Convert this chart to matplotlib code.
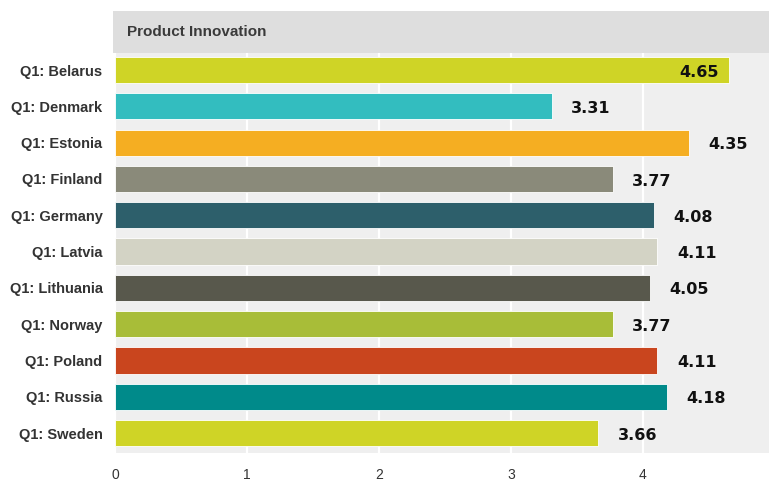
import matplotlib
matplotlib.use("Agg")
import matplotlib.pyplot as plt
from matplotlib import font_manager

categories = ["Q1: Belarus", "Q1: Denmark", "Q1: Estonia", "Q1: Finland", "Q1: Germany",
              "Q1: Latvia", "Q1: Lithuania", "Q1: Norway", "Q1: Poland", "Q1: Russia",
              "Q1: Sweden"]
values = [4.65, 3.31, 4.35, 3.77, 4.08, 4.11, 4.05, 3.77, 4.11, 4.18, 3.66]
colors = ["#cfd426", "#33bdbf", "#f5ae22", "#8a8a7a", "#2d5f6b", "#d3d3c5",
          "#58584c", "#a8bd38", "#c9451e", "#008a8a", "#cfd426"]
xticks = [0, 1, 2, 3, 4]
title = "Product Innovation"

names = {f.name for f in font_manager.fontManager.ttflist}
narrow = "Liberation Sans Narrow" if "Liberation Sans Narrow" in names else "Liberation Sans"

W, H = 769, 484
fig = plt.figure(figsize=(W / 100, H / 100), dpi=100)
fig.patch.set_facecolor("white")

ax_l, ax_r, ax_t, ax_b = 115, 769, 53, 453
ax = fig.add_axes([ax_l / W, 1 - ax_b / H, (ax_r - ax_l) / W, (ax_b - ax_t) / H])
ax.set_facecolor("#efefef")

# strip header
hdr = fig.add_axes([113 / W, 1 - ax_t / H, (W - 113) / W, (ax_t - 11) / H])
hdr.set_facecolor("#dedede")
hdr.set_xticks([]); hdr.set_yticks([])
for s in hdr.spines.values():
    s.set_visible(False)
hdr.text(14 / (W - 113), 0.5, title, transform=hdr.transAxes, ha="left", va="center",
         fontsize=11, fontweight="bold", color="#3a3a3a", family=narrow)

xmax = 4.955
ypos = list(range(len(categories)))
ax.barh(ypos, values, height=0.72, color=colors, edgecolor="#ffffff",
        linewidth=0.6, zorder=3)
ax.set_xlim(0, xmax)
ax.set_ylim(len(categories) - 0.45, -0.47)

for x in xticks:
    ax.axvline(x, color="white", linewidth=1.6, zorder=1)

for y, v in zip(ypos, values):
    label = f"{v:.2f}"
    if v + 0.6 > xmax:
        ax.annotate(label, (v, y), xytext=(-7, -1.5), textcoords="offset points",
                    ha="right", va="center", fontsize=11.5, fontweight="bold",
                    color="#111111", zorder=4)
    else:
        ax.annotate(label, (v, y), xytext=(14, -1.5), textcoords="offset points",
                    ha="left", va="center", fontsize=11.5, fontweight="bold",
                    color="#111111", zorder=4)

ax.set_yticks(ypos)
ax.set_yticklabels(categories, fontsize=10.5, fontweight="bold", color="#333333",
                   family=narrow)
ax.set_xticks(xticks)
ax.set_xticklabels([str(t) for t in xticks], fontsize=10, color="#333333", family=narrow)
ax.tick_params(axis="y", length=0, pad=9)
ax.tick_params(axis="x", length=0, pad=11)
for s in ax.spines.values():
    s.set_visible(False)

fig.savefig("out.png", dpi=100, facecolor="white")
